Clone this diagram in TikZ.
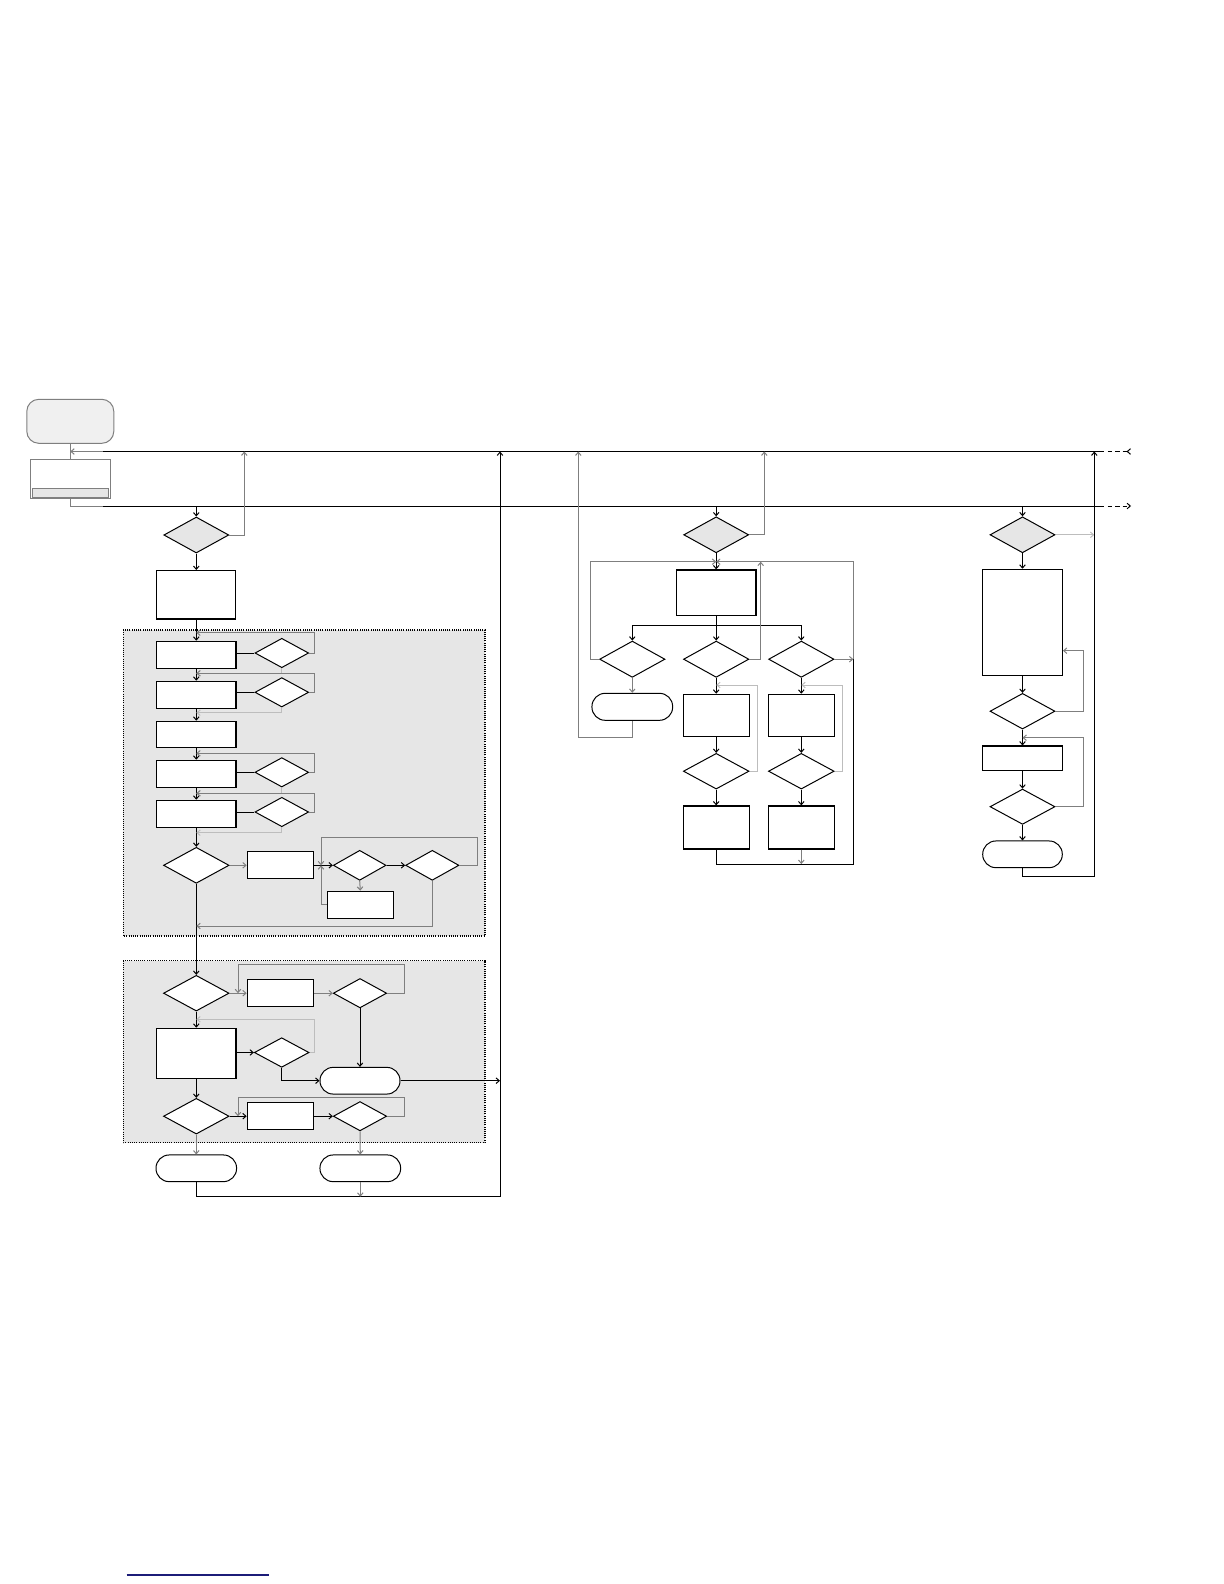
\documentclass[tikz,border=0pt]{standalone}
\usepackage{xcolor}
\definecolor{flowgray}{HTML}{7F7F7F}
\definecolor{flowlight}{HTML}{BDBDBD}
\definecolor{panelgray}{HTML}{E6E6E6}
\definecolor{linknavy}{HTML}{1C1C78}
\usepackage{tikz}
\usetikzlibrary{shapes.geometric, arrows.meta}

\begin{document}
\begin{tikzpicture}[x=0.5bp, y=-0.5bp, line width=0.5pt,
  >={Straight Barb[length=1.6pt,width=2.8pt]},
  proc/.style 2 args={draw, line width=0.6pt, fill=white, inner sep=0pt, minimum width=#1*0.5bp, minimum height=#2*0.5bp},
  cond/.style 2 args={diamond, draw, line width=0.5pt, fill=white, inner sep=0pt, minimum width=#1*0.5bp, minimum height=#2*0.5bp},
  term/.style 2 args={draw, line width=0.5pt, fill=white, rounded corners=6.6bp, inner sep=0pt, minimum width=#1*0.5bp, minimum height=#2*0.5bp},
  gate/.style={cond={65}{36}, fill=panelgray},
  panel/.style={fill=panelgray, draw, line width=0.6pt, dash pattern=on 0.5pt off 0.6pt},
  feed/.style={dash pattern=on 2.2pt off 1.6pt}]
  \useasboundingbox (0,0) rectangle (1224,1584);

  % shaded blocks
  \draw[panel] (123.3,630) rectangle (485,936);
  \draw[panel] (123.3,960.7) rectangle (485,1142.7);

  % entry and the two buses
  \node[term={87}{44}, draw=flowgray, fill=panelgray!60, rounded corners=6bp] (start) at (70.3,421.3) {};
  \node[proc={80}{39.3}, draw=flowgray, line width=0.5pt] (init) at (70.3,478.7) {};
  \node[proc={76.4}{9.4}, draw=flowgray, fill=panelgray, line width=0.5pt] (initbar) at (70.5,493) {};
  \coordinate (tbus) at (103,451.5);
  \coordinate (tend) at (1100,451.5);
  \coordinate (bbus) at (103,506);
  \coordinate (bend) at (1100,506);
  \draw[flowgray] (start.south) -- (init.north);
  \draw[flowgray,->] (tbus) -- (init.north |- tbus);
  \draw[flowgray] (init.south) |- (bbus);
  \draw (tbus) -- (tend);
  \draw (bbus) -- (bend);
  \draw[feed,-{Straight Barb[length=1.6pt,width=2.8pt,reversed]}] (tend) -- ++(31,0);
  \draw[feed,->] (bend) -- ++(31,0);

  % first branch
  \node[gate] (gate1) at (196.3,535) {};
  \node[proc={79}{48.4}] (prep) at (196.3,594.8) {};
  \foreach \n/\y/\h in {1/655/27.4, 2/695/27.4, 3/734.3/26, 4/773.8/27, 5/813.8/27}
    \node[proc={79.4}{\h}] (s\n) at (196.3,\y) {};
  \foreach \n/\y in {1/653, 2/692.3, 4/772.3, 5/812}
    \node[cond={53.7}{29.4}] (c\n) at (281.8,\y) {};
  \node[cond={65.6}{36}] (split) at (196.3,865.3) {};
  \node[proc={66}{27}] (r6) at (280.3,865.3) {};
  \node[cond={52.7}{30}] (c6) at (359.7,865.3) {};
  \node[cond={53.3}{30}] (c7) at (432.3,865.3) {};
  \node[proc={66}{27}] (r7) at (360.3,904.8) {};

  \node[cond={65.6}{35.7}] (pickA) at (196.3,993.2) {};
  \node[proc={66}{27}] (r8) at (280.3,993.2) {};
  \node[cond={53.4}{29.4}] (c9) at (360,993.2) {};
  \node[proc={79.4}{50}] (r9) at (196.3,1053.3) {};
  \node[cond={54.7}{29.6}] (c10) at (281.7,1052.5) {};
  \node[term={80}{26.7}] (t1) at (360,1080.7) {};
  \node[cond={65.6}{35.7}] (pickB) at (196.3,1116.2) {};
  \node[proc={66}{27}] (r10) at (280.3,1116.2) {};
  \node[cond={53.4}{29.3}] (c12) at (360,1116.2) {};
  \node[term={80.6}{26.7}] (t2) at (196.3,1168.3) {};
  \node[term={80.7}{26.7}] (t3) at (360.3,1168.3) {};

  \draw[->] (gate1.north |- bbus) -- (gate1.north);
  \draw[flowgray,->] (gate1.east) -| (244.3,451.5);
  \draw[->] (gate1.south) -- (prep.north);
  \foreach \a/\b in {prep/s1, s1/s2, s2/s3, s3/s4, s4/s5, s5/split, split/pickA, pickA/r9, r9/pickB}
    \draw[->] (\a.south) -- (\b.north);
  \foreach \n/\t/\b in {1/632.7/673.3, 2/673.3/712.7, 4/753.3/793.3, 5/793.3/832.7} {
    \draw (s\n.east |- c\n.west) -- (c\n.west);
    \draw[flowgray,->] (c\n.east) -| (314,\t) -- (196.3,\t);
    \draw[flowlight,->] (c\n.south) |- (196.3,\b);
  }
  \coordinate (mix) at (321,865.3);
  \draw[flowgray,->] (split.east) -- (r6.west);
  \draw (r6.east) -- (mix);
  \draw[->] (mix) -- (c6.west);
  \draw[->] (c6.east) -- (c7.west);
  \draw[flowgray,->] (c7.east) -| (477.3,837.3) -| (mix);
  \draw[flowgray,->] (c6.south) -- (r7.north);
  \draw[flowgray,->] (r7.west) -| (mix);
  \draw[flowgray,->] (c7.south) |- (196.3,926);

  \draw[flowgray,->] (pickA.east) -- (r8.west);
  \draw[flowgray,->] (r8.east) -- (c9.west);
  \draw[flowgray,->] (c9.east) -| (404.3,964.7) -| (238,993.2);
  \draw[->] (c9.south) -- (t1.north);
  \draw[->] (r9.east |- c10.west) -- (c10.west);
  \draw[flowlight,->] (c10.east) -| (314,1019.3) -- (196.3,1019.3);
  \draw[->] (c10.south) |- (t1.west);
  \draw[->] (t1.east) -- (500,1080.7);
  \draw[->] (pickB.east) -- (r10.west);
  \draw[->] (r10.east) -- (c12.west);
  \draw[flowgray,->] (c12.east) -| (404.3,1097) -| (238,1116.2);
  \draw[flowgray,->] (pickB.south) -- (t2.north);
  \draw[flowgray,->] (c12.south) -- (t3.north);
  \draw[->] (t2.south) |- (500,1196.7) -- (500,451.5);
  \draw[flowgray,->] (t3.south) -- (t3.south |- 0,1196.7);

  % second branch
  \node[gate] (gate2) at (716.2,534.8) {};
  \node[proc={79.7}{45.7}] (sel) at (716.2,592.8) {};
  \foreach \n/\x in {A/632.3, B/716.2, C/801.3}
    \node[cond={65.4}{36.3}] (opt\n) at (\x,659.2) {};
  \node[term={80.7}{27}] (endA) at (632.3,706.8) {};
  \foreach \n/\x in {B/716.2, C/801.3} {
    \node[proc={66}{42}] (step\n1) at (\x,715.3) {};
    \node[cond={65.7}{35.7}] (chk\n2) at (\x,771.2) {};
    \node[proc={66}{43}] (step\n3) at (\x,827.5) {};
    \draw[->] (opt\n.south) -- (step\n1.north);
    \draw[->] (step\n1.south) -- (chk\n2.north);
    \draw[->] (chk\n2.south) -- (step\n3.north);
  }
  \coordinate (fork) at (716.2,625.7);
  \coordinate (join) at (853.3,659.2);
  \draw[->] (gate2.north |- bbus) -- (gate2.north);
  \draw[flowgray,->] (gate2.east) -| (764.3,451.5);
  \draw[->] (gate2.south) -- (sel.north);
  \draw (sel.south) -- (fork);
  \draw[->] (fork) -| (optA.north);
  \draw[->] (fork) -- (optB.north);
  \draw[->] (fork) -| (optC.north);
  \draw[flowgray,->] (optA.west) -| (590.7,561.7) -- (716.2,561.7);
  \draw[flowgray,->] (optA.south) -- (endA.north);
  \draw[flowgray,->] (endA.south) |- (578.3,737.7) -- (578.3,451.5);
  \draw[flowgray,->] (optB.east) -| (760.7,561.7);
  \draw[flowlight,->] (chkB2.east) -| (757.3,685) -- (716.2,685);
  \draw[flowlight,->] (chkC2.east) -| (842.7,685) -- (801.3,685);
  \draw (stepB3.south) |- (853.3,864) -- (join);
  \draw[flowgray,->] (join) |- (716.2,561.7);
  \draw[flowgray,->] (optC.east) -- (join);
  \draw[flowgray,->] (stepC3.south) -- (stepC3.south |- 0,864);

  % third branch
  \node[gate] (gate3) at (1022.5,534.8) {};
  \node[proc={79.7}{106.4}] (load) at (1022.5,622.5) {};
  \node[cond={65}{35.7}] (test1) at (1022.5,711.2) {};
  \node[proc={79.7}{24.3}] (save) at (1022.5,758.2) {};
  \node[cond={65}{35.3}] (test2) at (1022.5,806.7) {};
  \node[term={79.6}{26.7}] (done) at (1022.5,854.3) {};
  \draw[->] (gate3.north |- bbus) -- (gate3.north);
  \draw[flowlight,->] (gate3.east) -- (1094.3,534.8);
  \draw[->] (gate3.south) -- (load.north);
  \draw[->] (load.south) -- (test1.north);
  \draw[flowgray,->] (test1.east) -| (1083.3,650.7) -- (load.east |- 0,650.7);
  \draw[->] (test1.south) -- (save.north);
  \draw[->] (save.south) -- (test2.north);
  \draw[flowgray,->] (test2.east) -| (1083.3,737.7) -- (1022.5,737.7);
  \draw[->] (test2.south) -- (done.north);
  \draw[->] (done.south) |- (1094.3,876.7) -- (1094.3,451.5);

  \draw[linknavy, line width=0.6pt] (126.7,1575) -- (269,1575);
\end{tikzpicture}
\end{document}
